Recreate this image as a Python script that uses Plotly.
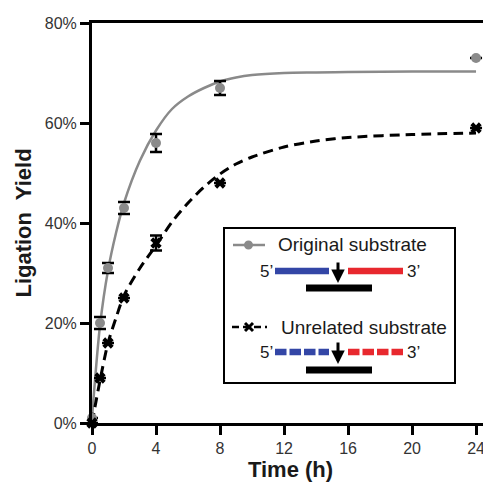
import plotly.graph_objects as go

# ---- data ----
time_h = [0, 0.5, 1, 2, 4, 8, 24]
orig_yield = [1, 20, 31, 43, 56, 67, 73]
orig_err = [0, 1.2, 1.0, 1.2, 1.8, 1.4, 0]
unrel_yield = [0, 9, 16, 25, 36, 48, 59]
unrel_err = [0, 0, 0, 0, 1.5, 0, 0]

# fitted curves
fit_t = [0, 0.5, 1, 1.5, 2, 3, 4, 5, 6, 7, 8, 9, 10, 12, 14, 16, 20, 24]
orig_fit = [1, 19.5, 30.5, 38, 44, 52.5, 58.5, 62.8, 65.3, 67.0, 68.3, 69.1, 69.6, 70.0, 70.1, 70.2, 70.3, 70.3]
unrel_fit = [0, 8.5, 16, 21, 25.5, 31, 35.5, 40.2, 44, 47.2, 49.8, 51.8, 53.2, 55.2, 56.4, 57.1, 57.7, 58]

x_ticks = [0, 4, 8, 12, 16, 20, 24]
y_ticks = [0, 20, 40, 60, 80]
y_tick_labels = ["0%", "20%", "40%", "60%", "80%"]

GREY = "#8a8a8a"
BLUE = "#3346a6"
RED = "#e8282e"
FONT = "Arial, Liberation Sans, sans-serif"

fig = go.Figure()
fig.add_trace(go.Scatter(x=fit_t, y=orig_fit, mode="lines", line=dict(color=GREY, width=2.5, shape="spline", smoothing=0.8),
                         hoverinfo="skip", cliponaxis=False))
fig.add_trace(go.Scatter(x=fit_t, y=unrel_fit, mode="lines", line=dict(color="black", width=3, dash="10px,6px", shape="spline", smoothing=0.8),
                         hoverinfo="skip", cliponaxis=False))
fig.add_trace(go.Scatter(x=time_h, y=orig_yield, mode="markers", name="Original substrate",
                         marker=dict(symbol="circle", size=10, color=GREY),
                         error_y=dict(type="data", array=orig_err, color="black", thickness=2.5, width=6),
                         cliponaxis=False))
fig.add_trace(go.Scatter(x=time_h, y=unrel_yield, mode="markers", name="Unrelated substrate",
                         marker=dict(symbol="x", size=10, color="black"),
                         error_y=dict(type="data", array=unrel_err, color="black", thickness=2.5, width=6),
                         cliponaxis=False))

# page offset (body margin) and figure size
OFF = 8
FW, FH = 491 - OFF, 489 - OFF
# plot area in page pixel coords
L, T, R, B = 92, 23, 489, 423
W, H = R - L, B - T


def px(X):
    return (X - L) / W


def py(Y):
    return (B - Y) / H


shapes = []
annotations = []


def hline(x0, x1, y, color, width, dash=None):
    d = dict(type="line", xref="paper", yref="paper", x0=px(x0), x1=px(x1), y0=py(y), y1=py(y),
             line=dict(color=color, width=width))
    if dash:
        d["line"]["dash"] = dash
    shapes.append(d)


def text(s, x, y, anchor="left", size=19):
    annotations.append(dict(text=s, xref="paper", yref="paper", x=px(x), y=py(y), xanchor=anchor, yanchor="middle",
                            showarrow=False, font=dict(family=FONT, size=size, color="#1a1a1a")))


def arrow(x, y0, y1):
    annotations.append(dict(text="", xref="paper", yref="paper",
                            x=px(x), y=py(y1), ax=0, ay=-(y1 - y0), showarrow=True,
                            arrowhead=2, arrowsize=0.9, arrowwidth=3, arrowcolor="black"))


# right border (thin grey)
shapes.append(dict(type="line", xref="paper", yref="paper", x0=1, x1=1, y0=0, y1=1, line=dict(color="#999999", width=1)))

# legend box
shapes.append(dict(type="rect", xref="paper", yref="paper", x0=px(224), x1=px(455), y0=py(383), y1=py(228),
                   line=dict(color="black", width=2), fillcolor="white", layer="above"))

# row 1
hline(233, 265, 245, GREY, 2.5)
shapes.append(dict(type="circle", xref="paper", yref="paper", x0=px(244), x1=px(253), y0=py(249.5), y1=py(240.5),
                   fillcolor=GREY, line=dict(color=GREY, width=0)))
text("Original substrate", 276, 245)
# row 2
text("5’", 275, 271, anchor="right", size=17)
hline(275, 329, 271, BLUE, 6.5)
hline(348, 403, 271, RED, 6.5)
text("3’", 405, 271, anchor="left", size=17)
arrow(338, 261, 283)
hline(306, 372, 288, "black", 7)
# row 3
hline(232, 267, 327, "black", 2.5, dash="7px,4px")
shapes.append(dict(type="line", xref="paper", yref="paper", x0=px(245), x1=px(253), y0=py(323), y1=py(331),
                   line=dict(color="black", width=3)))
shapes.append(dict(type="line", xref="paper", yref="paper", x0=px(245), x1=px(253), y0=py(331), y1=py(323),
                   line=dict(color="black", width=3)))
text("Unrelated substrate", 279, 327)
# row 4
text("5’", 275, 352, anchor="right", size=17)
hline(275, 329, 352, BLUE, 6.5, dash="11.5px,3px")
hline(348, 403, 352, RED, 6.5, dash="11.5px,3px")
text("3’", 405, 352, anchor="left", size=17)
arrow(338, 341, 364)
hline(306, 372, 370, "black", 7)

fig.update_layout(
    width=FW, height=FH,
    margin=dict(l=L - OFF, r=FW - (R - OFF), t=T - OFF, b=FH - (B - OFF), autoexpand=False),
    paper_bgcolor="white", plot_bgcolor="white",
    showlegend=False,
    font=dict(family=FONT, size=16, color="#333333"),
    shapes=shapes,
    annotations=annotations,
    xaxis=dict(range=[0, 24.81], tickvals=x_ticks, ticks="outside", ticklen=9, tickwidth=2.5, tickcolor="black",
               showline=True, linecolor="black", linewidth=3, mirror=True, showgrid=False, zeroline=False,
               automargin=False,
               title=dict(text="<b>Time (h)</b>", font=dict(size=22, color="#1a1a1a"), standoff=4),
               tickfont=dict(size=16, color="#333333")),
    yaxis=dict(range=[0, 80], tickvals=y_ticks, ticktext=y_tick_labels, ticks="outside", ticklen=9, tickwidth=2.5,
               tickcolor="black", showline=True, linecolor="black", linewidth=3, showgrid=False, zeroline=False,
               automargin=False,
               title=dict(text="<b>Ligation  Yield</b>", font=dict(size=22, color="#1a1a1a"), standoff=8),
               tickfont=dict(size=16, color="#333333")),
)

fig.write_html("out.html")
